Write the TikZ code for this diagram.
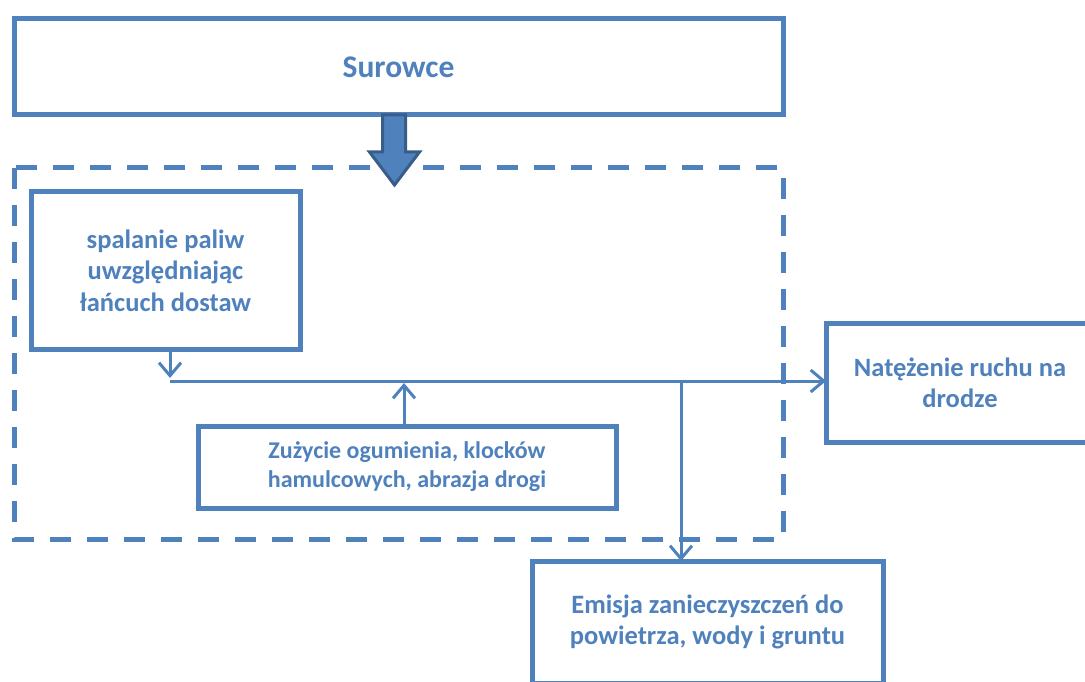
\documentclass[tikz,border=0pt]{standalone}
\usepackage{fontspec}
\setmainfont{Carlito}
\usetikzlibrary{arrows.meta}
\definecolor{accent}{HTML}{4F81BD}
\definecolor{accentdark}{HTML}{385D8A}
\begin{document}
\begin{tikzpicture}[x=1pt,y=-1pt,
  blockbox/.style={draw=accent, line width=5pt, fill=white, align=center,
    text=accent, font=\bfseries\fontsize{26.5}{31.5}\selectfont,
    inner sep=0pt, outer sep=0pt},
  link/.style={draw=accent, line width=3pt,
    -{Straight Barb[length=13pt,width=22pt,line width=3pt]}}]
\useasboundingbox (0,0) rectangle (1085,682);

% group frame
\draw[accent, line width=5pt, dash pattern=on 21pt off 16pt]
  (14,168) rectangle (783,539);

% boxes
\node[blockbox, minimum width=769pt, minimum height=96pt,
  font=\bfseries\fontsize{31.5}{38}\selectfont] (sur) at (398.5,67) {Surowce};
\node[blockbox, minimum width=269pt, minimum height=157pt] (spal) at (165.5,270.5)
  {spalanie paliw\\uwzględniając\\łańcuch dostaw};
\node[blockbox, minimum width=418pt, minimum height=82pt,
  font=\bfseries\fontsize{24}{29}\selectfont] (zuz) at (407,467)
  {Zużycie ogumienia, klocków\\hamulcowych, abrazja drogi};
\node[blockbox, minimum width=268pt, minimum height=119pt] (nat) at (960,383)
  {Natężenie ruchu na\\drodze};
\node[blockbox, minimum width=351pt, minimum height=122pt] (emi) at (707.5,622)
  {Emisja zanieczyszczeń do\\powietrza, wody i gruntu};

% wide arrow from Surowce into the frame
\draw[accentdark, fill=accent, line width=3pt, line join=miter]
  ([xshift=-16pt]sur.south) -- ([xshift=-16pt,yshift=-37pt]sur.south)
  -- ([xshift=-29pt,yshift=-37pt]sur.south) -- ([xshift=-4pt,yshift=-70pt]sur.south)
  -- ([xshift=21pt,yshift=-37pt]sur.south) -- ([xshift=7pt,yshift=-37pt]sur.south)
  -- ([xshift=7pt]sur.south) -- cycle;

% connectors
\coordinate (bus) at (170,381);
\coordinate (busend) at (681,381);
\draw[link] (spal.south -| bus) -- ([yshift=3pt]bus);
\draw[link] (bus) -- (nat.west |- bus);
\draw[link] (zuz.north -| 404,0) -- (404,383);
\draw[link] (busend) -- (emi.north -| busend);
\end{tikzpicture}
\end{document}
